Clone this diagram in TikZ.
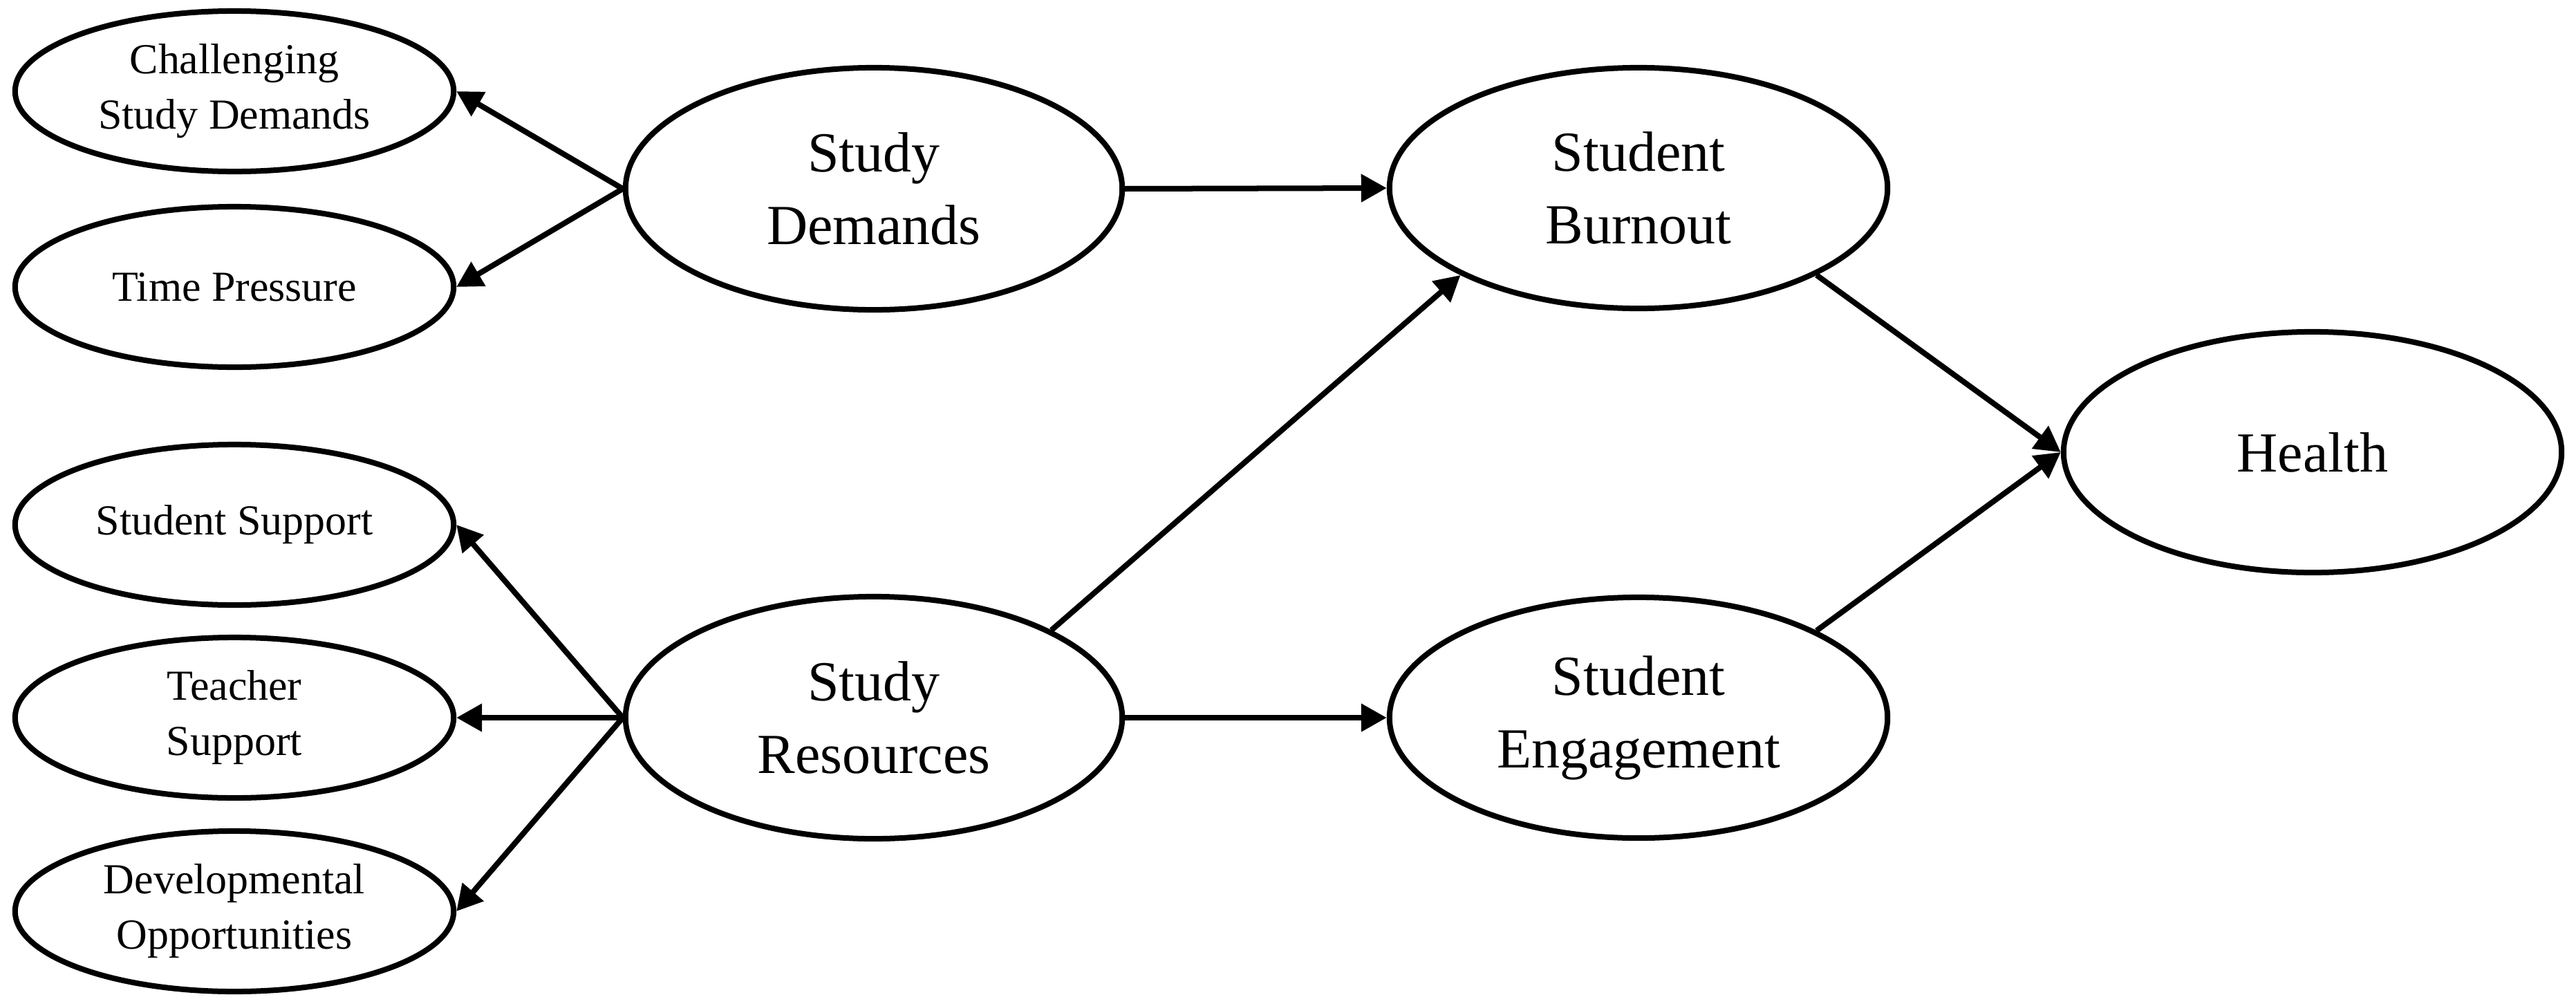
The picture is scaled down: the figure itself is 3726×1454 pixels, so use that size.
\documentclass[tikz,border=0pt]{standalone}
\usepackage{fontspec}
\setmainfont{Liberation Serif}
\usetikzlibrary{shapes.geometric,arrows.meta}
\begin{document}
\begin{tikzpicture}[x=0.01cm,y=-0.01cm,
  small/.style={draw, ellipse, line width=0.08cm, inner sep=0pt,
    minimum width=6.34cm, minimum height=2.32cm, align=center,
    font=\fontsize{17.6pt}{22.8pt}\selectfont},
  big/.style={draw, ellipse, line width=0.08cm, inner sep=0pt,
    minimum width=7.2cm, minimum height=3.5cm, align=center,
    font=\fontsize{23.3pt}{29.9pt}\selectfont},
  link/.style={line width=0.08cm, -{Triangle[length=0.37cm,width=0.39cm]}}]
\fill[white] (0,0) rectangle (3726,1454);
\useasboundingbox (0,0) rectangle (3726,1454);
\node[small] (cs) at (339,132) {Challenging\\Study Demands};
\node[small] (tp) at (339,415) {Time Pressure};
\node[small] (ss) at (339,759) {Student Support};
\node[small] (ts) at (339,1038) {Teacher\\Support};
\node[small] (do) at (339,1318) {Developmental\\Opportunities};
\node[big, minimum width=7.18cm] (sd) at (1264,273) {Study\\Demands};
\node[big, minimum width=7.18cm] (sr) at (1264,1038) {Study\\Resources};
\node[big, minimum height=3.48cm] (sb) at (2370,272) {Student\\Burnout};
\node[big, minimum height=3.48cm] (se) at (2370,1038) {Student\\Engagement};
\node[big, minimum height=3.48cm] (h) at (3345,654) {Health};
\draw[link] (sd.west) -- (cs.east);
\draw[link] (sd.west) -- (tp.east);
\draw[link] (sr.west) -- (ss.east);
\draw[link] (sr.west) -- (ts.east);
\draw[link] (sr.west) -- (do.east);
\draw[link] (sd.east) -- (sb.west);
\draw[link] (sr.east) -- (se.west);
\draw[link] (sr.north east) -- (sb.south west);
\draw[link] (sb.south east) -- (h.west);
\draw[link] (se.north east) -- (h.west);
\end{tikzpicture}
\end{document}
